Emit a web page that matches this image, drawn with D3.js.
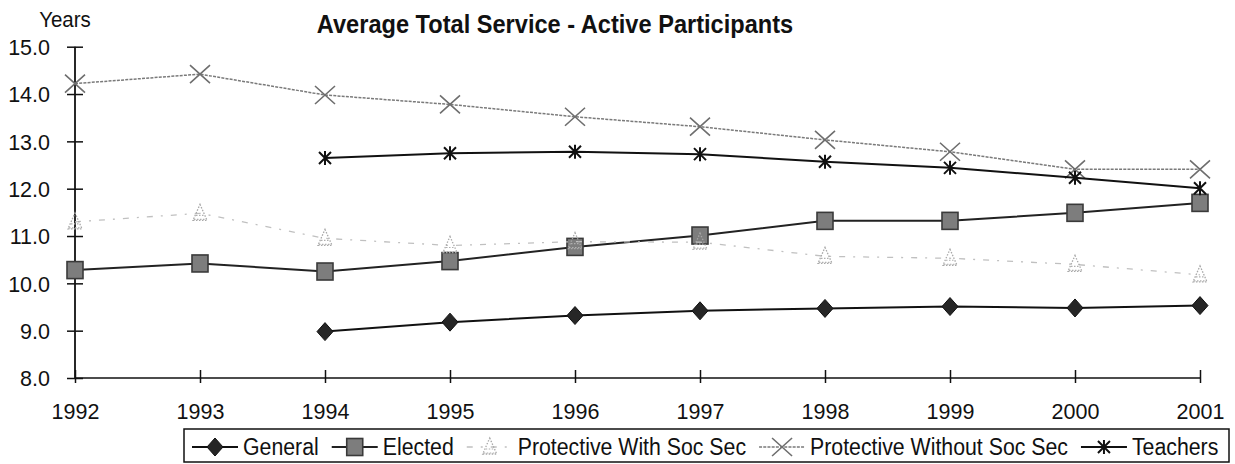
<!DOCTYPE html>
<html><head><meta charset="utf-8">
<script src="https://cdn.jsdelivr.net/npm/d3@7"></script>
<style>
html,body{margin:0;padding:0;background:#fff;}
svg{display:block;font-family:"Liberation Sans",Arial,Helvetica,sans-serif;}
</style></head>
<body>
<svg id="chart" width="1235" height="464"></svg>
<script>
// ---- data ----
const years = [1992, 1993, 1994, 1995, 1996, 1997, 1998, 1999, 2000, 2001];
const general     = [null, null, 8.98, 9.18, 9.32, 9.42, 9.47, 9.51, 9.48, 9.53];
const elected     = [10.28, 10.42, 10.25, 10.47, 10.77, 11.01, 11.32, 11.32, 11.49, 11.70];
const protWith    = [11.30, 11.48, 10.95, 10.80, 10.88, 10.87, 10.57, 10.53, 10.40, 10.18];
const protWithout = [14.22, 14.42, 13.98, 13.78, 13.52, 13.31, 13.03, 12.78, 12.41, 12.41];
const teachers    = [null, null, 12.65, 12.75, 12.78, 12.73, 12.57, 12.44, 12.23, 12.01];
const seriesNames = ["General", "Elected", "Protective With Soc Sec", "Protective Without Soc Sec", "Teachers"];
const yTicks = [8, 9, 10, 11, 12, 13, 14, 15];
const titleText = "Average Total Service - Active Participants";
const yUnit = "Years";

// ---- layout ----
const svg = d3.select("#chart");
const x = d3.scalePoint().domain(years).range([75, 1200]);
const y = d3.scaleLinear().domain([8, 15]).range([378, 46.7]);

const styles = {
  "General":                  {stroke:"#111", width:2,   dash:null,      marker:"diamond"},
  "Elected":                  {stroke:"#222", width:2,   dash:null,      marker:"square"},
  "Protective With Soc Sec":  {stroke:"#c0c0c0", width:1.3, dash:"6,8,2,8", marker:"triangle"},
  "Protective Without Soc Sec":{stroke:"#7a7a7a", width:1.5, dash:"3,1.2", marker:"x"},
  "Teachers":                 {stroke:"#111", width:2,   dash:null,      marker:"star"}
};
const seriesData = [general, elected, protWith, protWithout, teachers];

function drawMarker(g, type, cx, cy) {
  const m = g.append("g").attr("transform", `translate(${cx},${cy})`);
  if (type === "diamond") {
    m.append("path").attr("d", "M0,-9L8,0L0,9L-8,0Z").attr("fill", "#262626").attr("stroke", "#111").attr("stroke-width", 1);
  } else if (type === "square") {
    m.append("rect").attr("x", -8).attr("y", -8.5).attr("width", 16).attr("height", 17)
      .attr("fill", "#7d7d7d").attr("stroke", "#3a3a3a").attr("stroke-width", 1.6);
  } else if (type === "triangle") {
    m.append("path").attr("d", "M0,-9L7,7L-7,7Z").attr("fill", "none").attr("stroke", "#a8a8a8")
      .attr("stroke-width", 1.3).attr("stroke-dasharray", "1.5,1.5");
    m.append("path").attr("d", "M-4,2L4,2M-6,6L6,6").attr("stroke", "#b0b0b0").attr("stroke-width", 1.2).attr("stroke-dasharray", "1.5,1.5");
  } else if (type === "x") {
    m.append("path").attr("d", "M-10,-9L10,9M-10,9L10,-9").attr("stroke", "#6e6e6e").attr("stroke-width", 1.6).attr("fill", "none");
  } else if (type === "star") {
    m.append("path").attr("d", "M-6,-6L6,6M-6,6L6,-6M0,-7L0,7").attr("stroke", "#111").attr("stroke-width", 2).attr("fill", "none");
  }
}

// axes
const axisG = svg.append("g");
const yAxis = d3.axisLeft(y).tickValues(yTicks).tickSize(0).tickFormat(d3.format(".1f"));
const yg = axisG.append("g").attr("transform", `translate(${x(1992)},0)`).call(yAxis);
yg.select(".domain").remove();
yg.selectAll(".tick text").attr("x", -25).attr("dy", "0.37em").attr("font-size", 21.5).attr("fill", "#111")
  .attr("font-family", "Liberation Sans, Arial, sans-serif");
yg.selectAll(".tick").append("line").attr("x1", -8).attr("x2", 8).attr("stroke", "#111").attr("stroke-width", 1.5);

const xAxis = d3.axisBottom(x).tickSize(0).tickFormat(d3.format("d"));
const xg = axisG.append("g").attr("transform", `translate(0,${y(8)})`).call(xAxis);
xg.select(".domain").remove();
xg.selectAll(".tick text").attr("y", 41).attr("dy", 0).attr("font-size", 21.5).attr("fill", "#111")
  .attr("font-family", "Liberation Sans, Arial, sans-serif");
xg.selectAll(".tick").append("line").attr("y1", -8).attr("y2", 5).attr("stroke", "#111").attr("stroke-width", 1.5);

axisG.append("line").attr("x1", x(1992)).attr("x2", x(1992)).attr("y1", y(15)).attr("y2", y(8))
  .attr("stroke", "#111").attr("stroke-width", 1.8);
axisG.append("line").attr("x1", x(1992)).attr("x2", x(2001)).attr("y1", y(8)).attr("y2", y(8))
  .attr("stroke", "#111").attr("stroke-width", 1.6);

// series
const line = d3.line().defined(d => d.v != null).x(d => x(d.yr)).y(d => y(d.v));
seriesNames.forEach((name, i) => {
  const st = styles[name];
  const pts = years.map((yr, j) => ({yr, v: seriesData[i][j]}));
  const g = svg.append("g");
  g.append("path").datum(pts).attr("d", line).attr("fill", "none")
    .attr("stroke", st.stroke).attr("stroke-width", st.width)
    .attr("stroke-dasharray", st.dash);
  pts.filter(p => p.v != null).forEach(p => drawMarker(g, st.marker, x(p.yr), y(p.v)));
});

// titles
svg.append("text").attr("transform", "translate(555,33) scale(1,1.12)").attr("text-anchor", "middle")
  .attr("font-size", 23.6).attr("font-weight", "bold").attr("fill", "#111").text(titleText);
svg.append("text").attr("transform", "translate(65,27) scale(1,1.08)").attr("text-anchor", "middle")
  .attr("font-size", 20.5).attr("fill", "#111").text(yUnit);

// legend
const leg = svg.append("g");
leg.append("rect").attr("x", 184).attr("y", 429).attr("width", 1045).attr("height", 33)
  .attr("fill", "#fff").attr("stroke", "#111").attr("stroke-width", 1.5);
let cx = 192;
const ly = 447;
seriesNames.forEach(name => {
  const st = styles[name];
  const lg = leg.append("g");
  lg.append("line").attr("x1", cx).attr("x2", cx + 46).attr("y1", ly).attr("y2", ly)
    .attr("stroke", st.stroke).attr("stroke-width", st.width).attr("stroke-dasharray", st.dash);
  drawMarker(lg, st.marker, cx + 23, ly);
  const t = lg.append("text").attr("transform", `translate(${cx + 51},${ly}) scale(1,1.1)`).attr("dy", "0.36em")
    .attr("font-size", 21.3).attr("fill", "#111").text(name);
  cx += 51 + t.node().getComputedTextLength() + 13;
});
</script>
</body></html>
